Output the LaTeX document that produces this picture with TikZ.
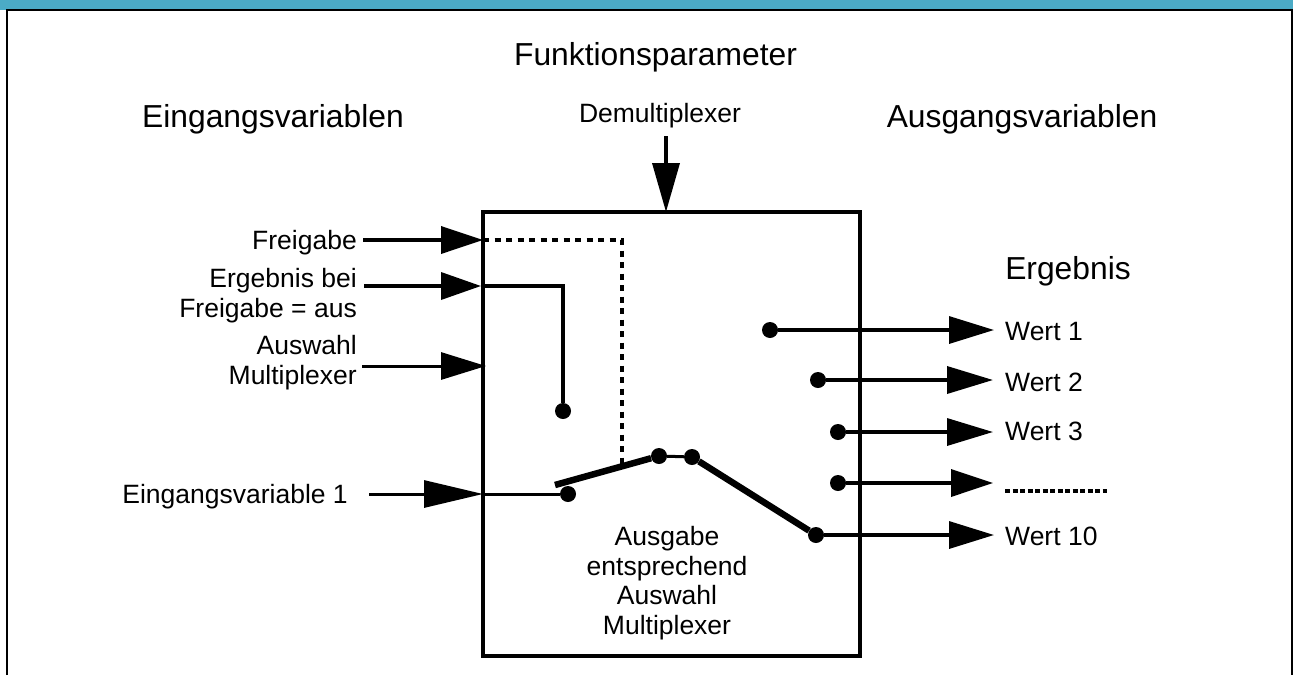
\documentclass[tikz,border=0pt]{standalone}
\usepackage{fontspec}
\setmainfont{Liberation Sans}
\usetikzlibrary{arrows.meta}
\definecolor{band}{HTML}{4BABC6}
\tikzset{
  x=1pt,y=-1pt,
  big/.style={inner sep=0pt,font=\fontsize{31.8}{36}\selectfont},
  small/.style={inner sep=0pt,font=\fontsize{26.5}{29.6}\selectfont,align=center},
  smallr/.style={inner sep=0pt,font=\fontsize{26.5}{30}\selectfont,align=right},
  smalll/.style={inner sep=0pt,font=\fontsize{26.5}{30}\selectfont},
  tip/.style={-{Triangle[length=#1,width=27pt]},line width=3.6pt},
  dot/.style={circle,fill=black,inner sep=0pt,minimum size=16pt},
}
\begin{document}
\begin{tikzpicture}
\useasboundingbox (0,0) rectangle (1293,675);
\fill[band] (0,0) rectangle (1293,10);
\draw[line width=2pt] (7,675) -- (7,10) -- (1292,10) -- (1292,675);
\node[big] (t1) at (655.5,57) {Funktionsparameter};
\node[big] (t2) at (273,119) {Eingangsvariablen};
\node[big] (t3) at (1022,119) {Ausgangsvariablen};
\node[smalll] (t4) at (660,116) {Demultiplexer};
\node[big] (t5) at (1068,271) {Ergebnis};
\node[draw,line width=4pt,minimum width=377pt,minimum height=444pt,inner sep=0pt] (box) at (671.5,434) {};
\node[smallr,anchor=east] (fg) at (357,243) {Freigabe};
\node[smallr,anchor=east] (eb) at (357,295.5) {Ergebnis bei\\Freigabe = aus};
\node[smallr,anchor=east] (am) at (357,363) {Auswahl\\Multiplexer};
\node[smalll,anchor=east] (ev) at (348,497) {Eingangsvariable 1};
\node[small] (ag) at (667,583) {Ausgabe\\entsprechend\\Auswahl\\Multiplexer};
\node[smalll,anchor=west] (w1) at (1005,332) {Wert 1};
\node[smalll,anchor=west] (w2) at (1005,382) {Wert 2};
\node[smalll,anchor=west] (w3) at (1005,431.5) {Wert 3};
\node[smalll,anchor=west] (w10) at (1005,536) {Wert 10};
\coordinate (fga) at (363,240);\coordinate (fgb) at (483,240);\coordinate (fgc) at (622,240);\coordinate (fgd) at (622,467);
\coordinate (eba) at (364,286);\coordinate (ebb) at (481,286);\coordinate (ebc) at (563,286);
\coordinate (ama) at (362,366);\coordinate (amb) at (486,366);
\coordinate (eva) at (369,494);\coordinate (evb) at (483,494);
\coordinate (dma) at (666,136);\coordinate (dmb) at (666,212);
\coordinate (swa) at (555,485);
\node[dot] (d0) at (563,411) {};
\node[dot] (d1) at (568,494) {};
\node[dot] (d2) at (659,456) {};
\node[dot] (d3) at (692,457) {};
\node[dot] (d4) at (816,535) {};
\node[dot] (o1) at (770,330) {};
\node[dot] (o2) at (818,380) {};
\node[dot] (o3) at (838,432) {};
\node[dot] (o4) at (838,483) {};
\coordinate (e1) at (994,330);\coordinate (e2) at (993,380);\coordinate (e3) at (993,432);\coordinate (e4) at (993,483);\coordinate (e5) at (994,535);
\coordinate (da) at (1005,491);\coordinate (db) at (1107,491);
\draw[line width=3.1pt,dash pattern=on 6pt off 5.5pt] (fgb) -- (fgc) -- (fgd);
\draw[line width=4pt,dash pattern=on 5pt off 2.5pt] (da) -- (db);
\draw[tip=42pt] (fga) -- (fgb);
\draw[tip=40pt] (eba) -- (ebb);
\draw[line width=3.4pt] (ebb) -- (ebc) -- (d0);
\draw[tip=45pt,line width=3pt] (ama) -- (amb);
\draw[tip=59pt,line width=3pt] (eva) -- (evb);
\draw[line width=3pt] (evb) -- (d1);
\draw[tip=49pt] (dma) -- (dmb);
\draw[line width=6.5pt] (swa) -- (d2);
\draw[line width=3pt] (d2) -- (d3);
\draw[line width=6.5pt] (d3) -- (d4);
\draw[tip=45pt,line width=3.4pt] (o1) -- (e1);
\draw[tip=46pt] (o2) -- (e2);
\draw[tip=46pt,line width=3.4pt] (o3) -- (e3);
\draw[tip=42pt] (o4) -- (e4);
\draw[tip=45pt,line width=3.4pt] (d4) -- (e5);
\end{tikzpicture}
\end{document}
